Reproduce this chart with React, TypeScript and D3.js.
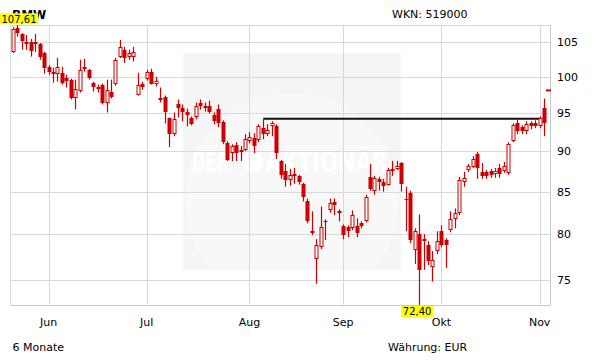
import React from "react";
import * as d3 from "d3";

const title = "BMW";
const wknLabel = "WKN: 519000";
const periodLabel = "6 Monate";
const currencyLabel = "Währung: EUR";
const watermarkLeft = "DER";
const watermarkRight = "AKTIONÄR";

// trading-day index of first candle (0 = 1 Jun)
const firstIndex = -8;

const opens = [
  103.6, 107.15, 106.25, 105.06, 105.06, 105.06, 104.77, 103.45,
  101.44, 100.73, 100.44, 100.58, 99.88, 99.6, 97.1, 98.07, 101.44, 101.0, 99.18, 98.63, 98.9, 96.43, 97.94, 99.04, 102.9, 103.89, 102.9, 102.9, 97.52, 99.04,
  99.74, 100.73, 99.04, 96.98, 97.25, 94.29, 92.2, 96.16, 95.62, 95.2, 94.29, 94.42, 96.43, 95.75, 96.02, 94.69, 95.49, 93.76, 91.03, 89.78, 90.78, 90.15, 90.15,
  91.29, 91.68, 91.42, 92.98, 92.2, 93.24, 93.24, 88.77, 87.53, 86.44, 87.17, 86.93, 85.96, 83.94, 80.37, 77.27, 78.58, 81.5, 82.77, 83.82, 82.42,
  80.93, 80.82, 80.7, 80.93, 81.27, 81.5, 86.8, 85.12, 86.56, 86.2, 85.84, 87.78, 87.78, 88.52, 84.17, 84.88, 78.25, 80.03, 79.25, 78.8, 76.4, 78.14,
  80.37, 79.36, 80.48, 81.73, 82.42, 86.2, 87.65, 88.02, 89.65, 87.41, 87.41, 87.53, 87.17, 87.9, 87.53, 87.29, 91.29, 93.63, 93.11, 92.59, 93.63, 93.63,
  93.24, 95.62,
];
const highs = [
  107.3, 107.61, 106.4, 106.1, 105.5, 106.25, 104.9, 103.6,
  101.7, 101.3, 102.7, 101.44, 100.3, 99.74, 99.6, 102.44, 102.6, 101.15, 99.32, 98.9, 99.04, 99.6, 99.6, 102.7, 105.36, 104.33, 103.9, 104.33, 100.58, 99.3,
  101.0, 101.15, 100.0, 98.5, 97.38, 94.42, 95.08, 96.84, 96.16, 95.6, 94.55, 96.43, 96.84, 96.43, 96.7, 95.08, 96.16, 94.03, 91.29, 90.9, 91.16, 90.66, 92.2,
  92.46, 92.33, 93.5, 94.16, 93.5, 93.9, 93.5, 88.9, 88.4, 87.78, 87.9, 87.05, 86.08, 84.17, 82.66, 79.47, 83.23, 81.73, 84.17, 84.17, 82.89,
  81.15, 81.04, 82.77, 81.84, 81.5, 84.64, 88.4, 86.93, 86.8, 86.56, 87.9, 88.77, 88.77, 88.65, 85.6, 85.12, 80.7, 82.3, 80.03, 79.25, 78.14, 80.37,
  81.04, 79.58, 82.66, 83.0, 86.8, 87.41, 88.4, 89.4, 89.9, 88.52, 87.65, 87.78, 87.9, 88.4, 88.65, 91.16, 93.63, 94.16, 93.37, 93.9, 93.9, 94.03,
  94.55, 96.98,
];
const lows = [
  103.4, 105.85, 103.9, 103.9, 102.9, 103.6, 102.44, 100.45,
  100.3, 99.18, 99.32, 98.9, 98.5, 96.84, 95.49, 97.8, 100.73, 99.6, 97.94, 97.8, 96.16, 95.08, 96.98, 98.76, 102.7, 102.0, 102.44, 102.2, 97.38, 98.2,
  99.46, 98.9, 98.63, 96.43, 93.63, 90.53, 91.94, 94.42, 93.9, 93.24, 93.37, 94.16, 95.49, 95.2, 94.95, 93.5, 93.11, 90.9, 88.77, 88.77, 88.77, 88.77, 90.03,
  91.03, 89.78, 91.16, 91.55, 91.94, 91.94, 89.02, 86.56, 85.6, 85.72, 85.96, 85.84, 83.82, 81.27, 79.92, 74.61, 78.36, 79.36, 82.5, 82.2, 81.5,
  79.47, 79.7, 80.48, 79.7, 80.7, 81.38, 85.12, 84.64, 85.12, 85.0, 85.72, 86.93, 87.65, 85.0, 80.37, 79.02, 76.73, 72.4, 76.1, 76.62, 74.83, 77.81,
  78.58, 76.3, 80.25, 80.7, 82.2, 85.6, 87.4, 87.9, 86.56, 86.56, 86.56, 86.68, 86.68, 86.68, 87.29, 87.05, 91.16, 92.2, 92.2, 92.2, 92.85, 92.98,
  92.98, 91.94,
];
const closes = [
  106.99, 106.45, 105.2, 104.7, 103.75, 104.77, 102.9, 101.3,
  100.73, 100.44, 101.44, 99.18, 99.46, 97.1, 98.35, 101.0, 101.15, 99.88, 98.63, 98.35, 96.43, 98.21, 97.25, 102.44, 104.33, 102.76, 103.45, 103.6, 98.9, 98.63,
  100.73, 99.04, 99.46, 96.84, 95.08, 92.2, 94.16, 95.62, 95.08, 94.69, 93.5, 96.02, 96.02, 96.02, 95.2, 93.9, 93.63, 91.16, 88.9, 90.66, 89.78, 89.9, 91.55,
  91.81, 90.66, 93.24, 92.2, 92.72, 93.63, 89.78, 87.05, 86.44, 87.05, 86.93, 86.2, 84.4, 81.5, 80.14, 78.8, 80.82, 81.38, 83.7, 83.35, 82.66,
  79.92, 80.37, 82.2, 80.14, 80.93, 84.4, 85.36, 86.68, 86.2, 85.72, 87.65, 87.53, 88.15, 85.96, 84.05, 79.36, 80.37, 76.1, 79.47, 77.05, 77.16, 79.25,
  78.8, 78.8, 81.73, 82.42, 86.44, 86.68, 88.15, 89.02, 87.9, 86.93, 86.93, 87.05, 87.53, 87.17, 88.15, 90.91, 93.37, 92.59, 92.59, 93.5, 93.24, 93.24,
  94.29, 93.63,
];

const monthLabels = ["Jun", "Jul", "Aug", "Sep", "Okt", "Nov"];
const monthIndex = [0, 22, 45, 66, 88, 110];
const yTickValues = [75, 80, 85, 90, 95, 100, 105];

const resistanceFrom = 48.1;
const resistanceTo = 110.1;
const resistanceValue = 94.25;
const lastQuote = 98.1;

const RED = "#cc0000";
const GRID = "#d8d8d8";
const FONT = "'DejaVu Sans', Verdana, sans-serif";

const fmt = (v: number) => d3.format(".2f")(v).replace(".", ",");

export default function App() {
  const left = 10.3, right = 550, top = 25, bottom = 305;
  const x = d3.scaleLinear().domain([-8.56, 112.32]).range([left, right]);
  const y = d3.scaleLog().domain([72.4, 107.61]).range([bottom, top]);

  const candles = opens.map((o, i) => ({
    idx: firstIndex + i, o, h: highs[i], l: lows[i], c: closes[i],
  }));

  const maxI = d3.maxIndex(candles, (d) => d.h);
  const minI = d3.minIndex(candles, (d) => d.l);
  const maxC = candles[maxI];
  const minC = candles[minI];

  const px = (v: number) => Math.round(v) + 0.5;
  const L = Math.round(left) + 0.5, R = Math.round(right) + 0.5;
  const T = Math.round(top) + 0.5, B = Math.round(bottom) + 0.5;

  const maxBoxW = 38, boxH = 11;
  const maxCx = Math.max(maxBoxW / 2, x(maxC.idx) + 1.5);
  const minBoxW = 32;
  const minCx = x(minC.idx) - 2;

  return (
    <svg width={611} height={364} style={{ position: "absolute", left: 0, top: 0, background: "#fff" }} fontFamily={FONT}>
      <rect x={0} y={0} width={611} height={364} fill="#fff" />
      {/* watermark area */}
      <defs>
        <clipPath id="wm">
          <rect x={183} y={53} width={218} height={217} />
        </clipPath>
      </defs>
      <rect x={183} y={53} width={218} height={217} fill="#f5f5f5" />
      <g clipPath="url(#wm)">
        <circle cx={292} cy={200} r={107} fill="#f8f8f8" />
        <text x={192} y={172} fontSize={29} fontWeight="bold" fill="#fff" textLength={37} lengthAdjust="spacingAndGlyphs">{watermarkLeft}</text>
        <circle cx={252.5} cy={162} r={10.5} fill="#fff" />
        <text x={265} y={172} fontSize={29} fontWeight="bold" fill="#fff" textLength={123} lengthAdjust="spacingAndGlyphs">{watermarkRight}</text>
      </g>

      {/* grid */}
      {yTickValues.map((v) => (
        <line key={"h" + v} x1={L} x2={R} y1={px(y(v))} y2={px(y(v))} stroke={GRID} strokeWidth={1} />
      ))}
      {monthIndex.map((m) => (
        <line key={"v" + m} x1={px(x(m))} x2={px(x(m))} y1={T} y2={B} stroke={GRID} strokeWidth={1} />
      ))}
      <line x1={L} x2={R} y1={T} y2={T} stroke={GRID} />
      <line x1={L} x2={R} y1={B} y2={B} stroke="#c8c8c8" />
      <line x1={L} x2={L} y1={T} y2={B} stroke={GRID} />
      <line x1={R} x2={R} y1={T} y2={B} stroke="#c8c8c8" />

      {/* resistance line */}
      <line x1={x(resistanceFrom)} x2={x(resistanceTo)} y1={y(resistanceValue)} y2={y(resistanceValue)} stroke="#111" strokeWidth={2} />

      {/* candles */}
      {candles.map((d) => {
        const cx = Math.round(x(d.idx));
        const up = d.c >= d.o;
        const yt = Math.round(y(Math.max(d.o, d.c)));
        const yb = Math.round(y(Math.min(d.o, d.c)));
        const hgt = Math.max(1, yb - yt);
        return (
          <g key={d.idx}>
            <line x1={cx + 0.5} x2={cx + 0.5} y1={y(d.h)} y2={y(d.l)} stroke={RED} strokeWidth={1.2} />
            {up ? (
              <rect x={cx - 1} y={yt + 0.5} width={3} height={Math.max(1, hgt - 1)} fill="#fff" stroke={RED} strokeWidth={1} />
            ) : (
              <rect x={cx - 1.5} y={yt} width={4} height={hgt} fill={RED} />
            )}
          </g>
        );
      })}

      {/* last quote marker */}
      <line x1={546} x2={551} y1={y(lastQuote)} y2={y(lastQuote)} stroke={RED} strokeWidth={2} />

      {/* right axis labels */}
      {yTickValues.map((v) => (
        <text key={"t" + v} x={557} y={y(v) + 4} fontSize={11} fill="#000">{v}</text>
      ))}

      {/* month labels */}
      {monthIndex.map((m, i) => (
        <text key={"m" + m} x={x(m)} y={326} fontSize={11} textAnchor="middle" fill="#000">{monthLabels[i]}</text>
      ))}

      {/* title etc */}
      <text x={12} y={19} fontSize={12} fontWeight="bold" fill="#000">{title}</text>
      <text x={392} y={18} fontSize={11} fill="#000">{wknLabel}</text>
      <text x={12.5} y={351} fontSize={11} fill="#000">{periodLabel}</text>
      <text x={388} y={351} fontSize={11} fill="#000">{currencyLabel}</text>

      {/* max / min labels */}
      <rect x={maxCx - maxBoxW / 2} y={top - boxH - 0.7} width={maxBoxW} height={boxH} fill="#ffff00" />
      <text x={maxCx} y={top - 2.5} fontSize={10} textAnchor="middle" fill="#000">{fmt(maxC.h)}</text>
      <rect x={minCx - minBoxW / 2} y={bottom + 1} width={minBoxW} height={boxH} fill="#ffff00" />
      <text x={minCx} y={bottom + 10} fontSize={10} textAnchor="middle" fill="#000">{fmt(minC.l)}</text>
    </svg>
  );
}
